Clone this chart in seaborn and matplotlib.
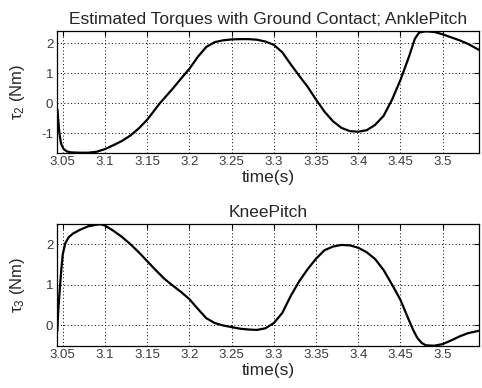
import matplotlib
matplotlib.use("Agg")
import matplotlib.pyplot as plt
import seaborn as sns
import pandas as pd

# ---- data ----
time_ankle = [3.0436, 3.046, 3.048, 3.0507, 3.055, 3.06, 3.07, 3.08, 3.09, 3.10,
              3.11, 3.12, 3.13, 3.14, 3.15, 3.165, 3.18, 3.19, 3.20, 3.21,
              3.22, 3.23, 3.24, 3.25, 3.26, 3.27, 3.28, 3.29, 3.30, 3.31,
              3.32, 3.33, 3.34, 3.35, 3.36, 3.37, 3.38, 3.39, 3.40, 3.41,
              3.42, 3.43, 3.44, 3.45, 3.46, 3.467, 3.472, 3.48, 3.49, 3.50,
              3.51, 3.52, 3.53, 3.543]
tau2 = [-0.2, -1.0, -1.35, -1.52, -1.61, -1.64, -1.65, -1.65, -1.62, -1.53,
        -1.40, -1.26, -1.08, -0.84, -0.55, 0.0, 0.48, 0.82, 1.15, 1.55,
        1.88, 2.04, 2.10, 2.13, 2.14, 2.14, 2.12, 2.06, 1.95, 1.70,
        1.30, 0.92, 0.55, 0.12, -0.28, -0.60, -0.82, -0.93, -0.95, -0.90,
        -0.72, -0.42, 0.12, 0.78, 1.55, 2.15, 2.36, 2.40, 2.38, 2.30,
        2.20, 2.10, 1.98, 1.78]

time_knee = [3.0436, 3.0445, 3.046, 3.048, 3.050, 3.053, 3.057, 3.062, 3.07, 3.08,
             3.09, 3.095, 3.10, 3.11, 3.12, 3.13, 3.14, 3.15, 3.16, 3.17,
             3.18, 3.19, 3.20, 3.21, 3.22, 3.23, 3.24, 3.25, 3.26, 3.27,
             3.28, 3.29, 3.30, 3.31, 3.32, 3.33, 3.34, 3.35, 3.36, 3.37,
             3.38, 3.39, 3.40, 3.41, 3.42, 3.43, 3.44, 3.45, 3.46, 3.465,
             3.47, 3.475, 3.48, 3.49, 3.50, 3.51, 3.52, 3.53, 3.543]
tau3 = [-0.15, 0.3, 0.75, 1.3, 1.75, 2.02, 2.17, 2.26, 2.35, 2.44,
        2.48, 2.49, 2.46, 2.33, 2.18, 2.00, 1.80, 1.58, 1.36, 1.15,
        0.98, 0.82, 0.64, 0.40, 0.17, 0.05, -0.01, -0.05, -0.09, -0.11,
        -0.12, -0.08, 0.05, 0.30, 0.72, 1.08, 1.38, 1.64, 1.85, 1.94,
        1.98, 1.97, 1.91, 1.80, 1.63, 1.36, 1.00, 0.62, 0.12, -0.12,
        -0.32, -0.44, -0.50, -0.51, -0.47, -0.38, -0.28, -0.20, -0.14]

x_ticks = [3.05, 3.1, 3.15, 3.2, 3.25, 3.3, 3.35, 3.4, 3.45, 3.5]
x_tick_labels = ["3.05", "3.1", "3.15", "3.2", "3.25", "3.3", "3.35", "3.4", "3.45", "3.5"]
y_ticks_ankle = [-1, 0, 1, 2]
y_ticks_knee = [0, 1, 2]

title_top = "Estimated Torques with Ground Contact; AnklePitch"
title_bottom = "KneePitch"

# ---- style ----
sns.set_style("white")
plt.rcParams["font.family"] = ["Liberation Sans", "DejaVu Sans"]
plt.rcParams["mathtext.fontset"] = "custom"
plt.rcParams["mathtext.rm"] = "Liberation Sans"
plt.rcParams["mathtext.it"] = "Liberation Sans"

fig = plt.figure(figsize=(4.82, 3.88), dpi=100)
ax1 = fig.add_axes([0.119, 0.6057, 0.8748, 0.3143])
ax2 = fig.add_axes([0.119, 0.1090, 0.8748, 0.3129])

df1 = pd.DataFrame({"time": time_ankle, "tau": tau2})
df2 = pd.DataFrame({"time": time_knee, "tau": tau3})

for ax, df, yt, ylim, ylab, title in [
    (ax1, df1, y_ticks_ankle, (-1.66, 2.41), r"$\tau_2$ (Nm)", title_top),
    (ax2, df2, y_ticks_knee, (-0.51, 2.49), r"$\tau_3$ (Nm)", title_bottom),
]:
    sns.lineplot(data=df, x="time", y="tau", ax=ax, color="black",
                 linewidth=1.6, sort=False, estimator=None)
    ax.set_xlim(3.0436, 3.543)
    ax.set_ylim(*ylim)
    ax.set_xticks(x_ticks)
    ax.set_xticklabels(x_tick_labels)
    ax.set_yticks(yt)
    ax.set_yticklabels([str(v) for v in yt])
    ax.tick_params(direction="in", length=3.5, width=0.8, colors="black",
                   labelcolor="#3a3a3a", labelsize=9.5, pad=2.5,
                   top=True, right=True)
    ax.tick_params(axis="y", pad=3)
    ax.grid(True, color="black", linestyle=(0, (1, 2.5)), linewidth=0.7)
    for s in ax.spines.values():
        s.set_visible(True)
        s.set_color("black")
        s.set_linewidth(0.9)
    ax.set_xlabel("time(s)", fontsize=12.5, labelpad=1.0)
    ax.set_ylabel(ylab, fontsize=12)
    ax.yaxis.set_label_coords(-0.071, 0.5)
    ax.set_title(title, fontsize=12.5, pad=5.3)

fig.savefig("out.png", dpi=100)
